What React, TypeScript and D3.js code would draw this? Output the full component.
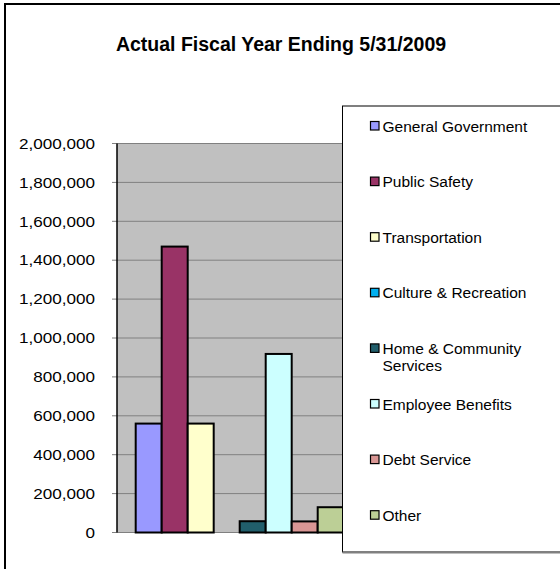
import React from "react";
import * as d3 from "d3";

const categories = [
  "General Government",
  "Public Safety",
  "Transportation",
  "Culture & Recreation",
  "Home & Community Services",
  "Employee Benefits",
  "Debt Service",
  "Other",
];
const values = [560000, 1470000, 560000, 0, 58000, 918000, 57000, 130000];
const colors = ["#9999FF", "#993366", "#FFFFCC", "#00B0F0", "#215E6B", "#CCFFFF", "#D99694", "#BCCF96"];
const legendLines = [
  ["General Government"],
  ["Public Safety"],
  ["Transportation"],
  ["Culture & Recreation"],
  ["Home & Community", "Services"],
  ["Employee Benefits"],
  ["Debt Service"],
  ["Other"],
];
const yTicks = [0, 200000, 400000, 600000, 800000, 1000000, 1200000, 1400000, 1600000, 1800000, 2000000];
const title = "Actual Fiscal Year Ending 5/31/2009";

const W = 560;
const H = 569;
const font = "'Liberation Sans', Arial, sans-serif";

export default function App() {
  const plotLeft = 117;
  const plotRight = 364;
  const y = d3.scaleLinear().domain([0, 2000000]).range([532.5, 143.5]);
  const x = d3.scaleBand().domain(categories).range([135.7, 343.7]).paddingInner(0).paddingOuter(0);
  const fmt = d3.format(",");
  const legendX = 342.5;
  const legendY = 106;
  const legendStep = 55.6;
  const legendFirst = 126;

  return (
    <svg
      width={W}
      height={H}
      style={{ position: "absolute", left: 0, top: 0, background: "#fff" }}
      fontFamily={font}
    >
      <rect x={0} y={0} width={W} height={H} fill="#fff" />
      {/* outer chart border */}
      <rect x={5} y={4} width={W + 20} height={H + 20} fill="#fff" stroke="#000" strokeWidth={2} />
      {/* title */}
      <text x={281} y={51} textAnchor="middle" fontSize={19.5} fontWeight="bold" fill="#000">
        {title}
      </text>
      {/* plot area */}
      <rect x={plotLeft} y={y(2000000)} width={plotRight - plotLeft} height={y(0) - y(2000000)} fill="#C0C0C0" />
      {yTicks.map((t) => (
        <g key={t}>
          <line x1={plotLeft - 5} x2={plotRight} y1={y(t)} y2={y(t)} stroke="#808080" strokeWidth={1} />
          <text
            x={95}
            y={y(t)}
            dy="0.36em"
            textAnchor="end"
            fontSize={14.5}
            fill="#000"
            transform={`translate(95,0) scale(1.18,1) translate(-95,0)`}
          >
            {fmt(t)}
          </text>
        </g>
      ))}
      <line x1={plotLeft} x2={plotLeft} y1={y(2000000)} y2={y(0)} stroke="#000" strokeWidth={1.5} />
      {/* bars */}
      {categories.map((c, i) => (
        <rect
          key={c}
          x={x(c)!}
          y={y(values[i])}
          width={x.bandwidth()}
          height={y(0) - y(values[i])}
          fill={colors[i]}
          stroke="#000"
          strokeWidth={2}
        />
      ))}
      {/* legend */}
      <rect x={legendX} y={legendY} width={W} height={552 - legendY} fill="#fff" stroke="#000" strokeWidth={1} />
      <line x1={legendX} x2={W + 5} y1={552.5} y2={552.5} stroke="#808080" strokeWidth={2} />
      {categories.map((c, i) => {
        const cy = legendFirst + i * legendStep;
        return (
          <g key={c}>
            <rect x={370.5} y={cy - 4.5} width={8.5} height={8.5} fill={colors[i]} stroke="#000" strokeWidth={1.2} />
            {legendLines[i].map((ln, j) => (
              <text key={j} x={382.5} y={cy + j * 17.5} dy="0.36em" fontSize={15.5} fill="#000">
                {ln}
              </text>
            ))}
          </g>
        );
      })}
    </svg>
  );
}
